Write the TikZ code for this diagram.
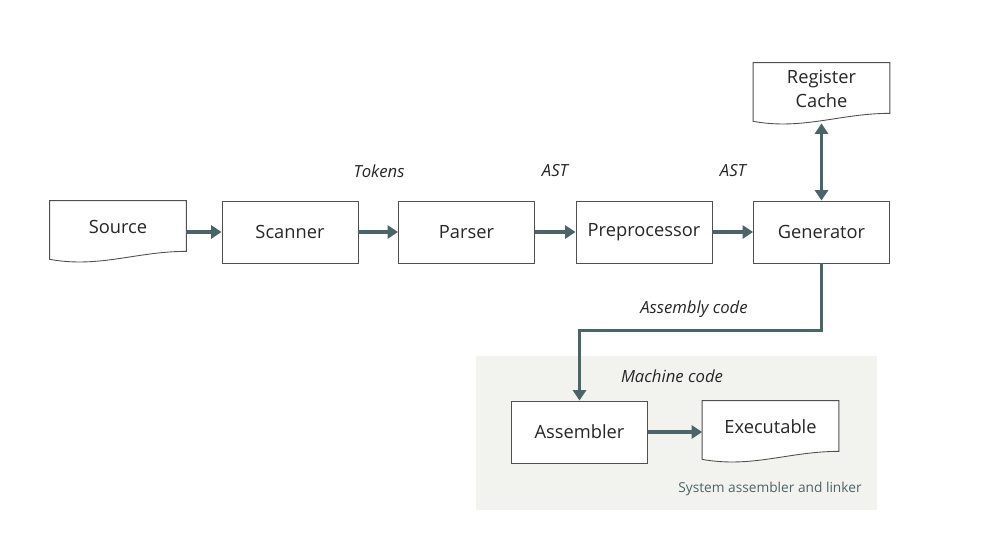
\documentclass[tikz,border=0pt]{standalone}
\usepackage{fontspec}
\setmainfont{Open Sans}
\usetikzlibrary{arrows.meta,calc}
\definecolor{arrowc}{HTML}{4A6568}
\definecolor{bgc}{HTML}{F2F2EF}
\definecolor{linec}{HTML}{505050}
\definecolor{textc}{HTML}{262626}
\tikzset{
  procbox/.style={draw=linec,line width=0.5pt,minimum width=2.72cm,minimum height=1.24cm,inner sep=0pt,font=\fontsize{10.4}{12}\selectfont,text=textc},
  docnode/.style={minimum width=2.72cm,minimum height=1.04cm,inner sep=0pt,font=\fontsize{10.4}{13.6}\selectfont,text=textc,align=center},
  docline/.style={draw=linec,line width=0.5pt,fill=white},
  flow/.style={draw=arrowc,line width=1.8pt,-{Triangle[length=6pt,width=7.5pt]}},
  lbl/.style={font=\fontsize{9.5}{11}\selectfont\itshape,text=textc},
}
\newcommand\wavedoc[1]{\path[docline] (#1.north west) -- (#1.north east) -- ($(#1.south east)+(0,-2)$) .. controls +(-50,0) and +(50,9) .. ($(#1.south west)+(0,6)$) -- cycle;}
\begin{document}
\begin{tikzpicture}[x=0.02cm,y=-0.02cm]
\useasboundingbox (0,0) rectangle (1000,552);
% background panel
\fill[bgc] (476,356) rectangle (877,510);
\node[font=\fontsize{7.8}{9}\selectfont,text=arrowc] (syslbl) at (770,489) {System assembler and linker};
% documents
\node[docnode] (src) at (118,227) {};
\wavedoc{src}
\node[docnode] at (src) {Source};
\node[docnode] (rc) at (821.5,89) {};
\wavedoc{rc}
\node[docnode] at (rc) {Register\\Cache};
\node[docnode] (exe) at (770.5,427) {};
\wavedoc{exe}
\node[docnode] at (exe) {Executable};
% process boxes
\node[procbox] (scan) at (290,232) {Scanner};
\node[procbox] (pars) at (466.5,232) {Parser};
\node[procbox] (prep) at (644,232) {Preprocessor};
\node[procbox] (gen) at (821.5,232) {Generator};
\node[procbox,fill=white] (asm) at (579.5,432) {Assembler};
% labels
\node[lbl] (ltok) at (379,171) {Tokens};
\node[lbl] (last1) at (555,171) {AST};
\node[lbl] (last2) at (733,171) {AST};
\node[lbl] (lasm) at (694,309) {Assembly code};
\node[lbl] (lmach) at (672,376) {Machine code};
% connectors
\draw[flow] (src.east |- scan.west) -- (scan.west);
\draw[flow] (scan.east) -- (pars.west);
\draw[flow] (pars.east) -- (prep.west);
\draw[flow] (prep.east) -- (gen.west);
\coordinate (rcb) at ($(rc.south)+(0,8)$);
\draw[flow,{Triangle[length=6pt,width=7.5pt]}-{Triangle[length=6pt,width=7.5pt]}] (rcb) -- (gen.north);
\draw[flow] (gen.south) -- ++(0,67) -| (asm.north);
\draw[flow] (asm.east) -- (exe.west |- asm.east);
\end{tikzpicture}
\end{document}
